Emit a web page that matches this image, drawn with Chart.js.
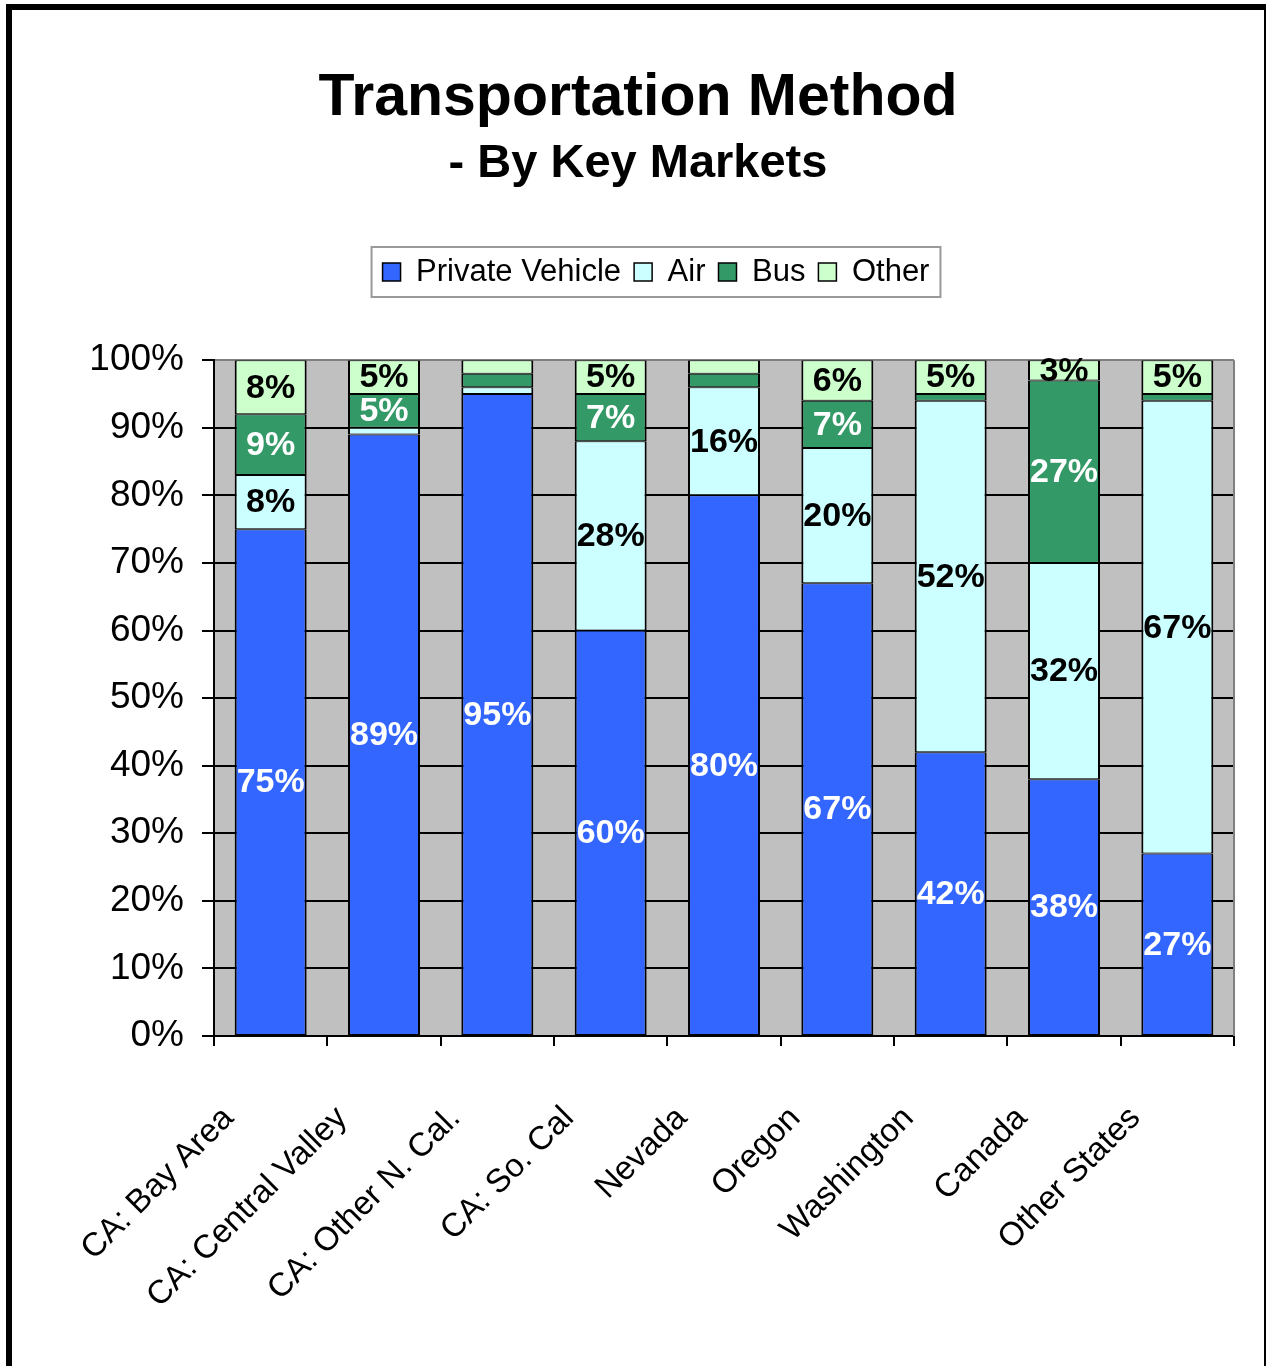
<!DOCTYPE html>
<html>
<head>
<meta charset="utf-8">
<script src="https://cdn.jsdelivr.net/npm/chart.js@4.4.1/dist/chart.umd.min.js"></script>
<style>
html,body{margin:0;padding:0;background:#fff;overflow:hidden;}
#wrap{position:relative;width:1267px;height:1366px;}
#frame{position:absolute;left:6px;top:4px;width:1252px;height:1400px;border-left:6px solid #000;border-top:6px solid #000;border-right:2px solid #000;pointer-events:none;}
canvas{position:absolute;left:0;top:0;}
</style>
</head>
<body>
<div id="wrap"><canvas id="c" width="1267" height="1366"></canvas><div id="frame"></div></div>
<script>
// ---- data ----
const categories = ['CA: Bay Area', 'CA: Central Valley', 'CA: Other N. Cal.', 'CA: So. Cal', 'Nevada', 'Oregon', 'Washington', 'Canada', 'Other States'];
const seriesNames = ['Private Vehicle', 'Air', 'Bus', 'Other'];
const privateVehicle = [75, 89, 95, 60, 80, 67, 42, 38, 27];
const air = [8, 1, 1, 28, 16, 20, 52, 32, 67];
const bus = [9, 5, 2, 7, 2, 7, 1, 27, 1];
const other = [8, 5, 2, 5, 2, 6, 5, 3, 5];
const yTickLabels = ['0%', '10%', '20%', '30%', '40%', '50%', '60%', '70%', '80%', '90%', '100%'];
const titleText = 'Transportation Method';
const subtitleText = '- By Key Markets';

// ---- styles ----
const FONT = "'Liberation Sans', Arial, Helvetica, sans-serif";
const fills = ['#3366FF', '#CCFFFF', '#339966', '#CCFFCC'];
const labelColors = ['#FFFFFF', '#000000', '#FFFFFF', '#000000'];
const seriesValues = [privateVehicle, air, bus, other];

const LAYOUT = { padLeft: 9, plotLeft: 214, plotRight: 1234, plotBottom: 1036, legendCx: 656, legendCy: 272 };

const plotFrame = {
  id: 'plotFrame',
  beforeDraw(chart) {
    const { ctx, chartArea: a } = chart;
    ctx.save();
    ctx.fillStyle = '#C0C0C0';
    ctx.fillRect(a.left, a.top, a.right - a.left, a.bottom - a.top);
    ctx.restore();
  },
  afterDraw(chart) {
    const { ctx, chartArea: a } = chart;
    ctx.save();
    ctx.strokeStyle = '#808080';
    ctx.lineWidth = 2;
    ctx.beginPath();
    ctx.moveTo(a.right, a.top);
    ctx.lineTo(a.right, a.bottom);
    ctx.stroke();
    ctx.restore();
  }
};

const legendFrame = {
  id: 'legendFrame',
  afterLayout(chart) {
    const lg = chart.legend;
    const pad = lg.options.labels.padding;
    const itemH = Math.max(lg.options.labels.font.size, lg.options.labels.boxHeight);
    const dx = LAYOUT.legendCx - (lg.left + lg.right) / 2;
    const dy = LAYOUT.legendCy - (lg.top + pad + itemH / 2);
    lg.left += dx; lg.right += dx; lg.top += dy; lg.bottom += dy;
  },
  afterDraw(chart) {
    const hb = chart.legend.legendHitBoxes;
    if (!hb || !hb.length) return;
    let l = Infinity, r = -Infinity, cy = 0;
    hb.forEach(h => { l = Math.min(l, h.left); r = Math.max(r, h.left + h.width); cy += h.top + h.height / 2; });
    cy /= hb.length;
    const ctx = chart.ctx;
    ctx.save();
    ctx.strokeStyle = '#999999';
    ctx.lineWidth = 2;
    ctx.strokeRect(l - 11, cy - 25, (r - l) + 22, 50);
    ctx.restore();
  }
};

const valueLabels = {
  id: 'valueLabels',
  afterDatasetsDraw(chart) {
    const ctx = chart.ctx;
    ctx.save();
    ctx.font = 'bold 34px ' + FONT;
    ctx.textAlign = 'center';
    ctx.textBaseline = 'middle';
    chart.data.datasets.forEach((ds, i) => {
      const meta = chart.getDatasetMeta(i);
      meta.data.forEach((el, j) => {
        const v = ds.data[j];
        if (v < 3) return;
        const p = el.getProps(['x', 'y', 'base'], true);
        ctx.fillStyle = labelColors[i];
        ctx.fillText(v + '%', p.x, (p.y + p.base) / 2 + 1);
      });
    });
    ctx.restore();
  }
};

new Chart(document.getElementById('c'), {
  type: 'bar',
  data: {
    labels: categories,
    datasets: seriesNames.map((name, i) => ({
      label: name,
      data: seriesValues[i],
      backgroundColor: fills[i],
      borderColor: '#000000',
      borderWidth: { top: 1, bottom: 1, left: 2, right: 2 },
      borderSkipped: false,
      barPercentage: 0.635,
      categoryPercentage: 1.0
    }))
  },
  options: {
    responsive: false,
    maintainAspectRatio: false,
    animation: false,
    events: [],
    layout: { padding: { top: 20, left: LAYOUT.padLeft, right: 0, bottom: 0 } },
    plugins: {
      title: {
        display: true,
        text: titleText,
        color: '#000',
        font: { family: FONT, size: 59, weight: 'bold', lineHeight: 1.2 },
        padding: { top: 43, bottom: 0 }
      },
      subtitle: {
        display: true,
        text: subtitleText,
        color: '#000',
        font: { family: FONT, size: 47, weight: 'bold', lineHeight: 1.2 },
        padding: { top: 2, bottom: 114 }
      },
      legend: {
        display: true,
        position: 'top',
        labels: {
          color: '#000',
          font: { family: FONT, size: 31 },
          boxWidth: 18,
          boxHeight: 18,
          padding: 13
        }
      },
      tooltip: { enabled: false }
    },
    scales: {
      x: {
        stacked: true,
        border: { display: true, color: '#000', width: 2 },
        grid: { drawOnChartArea: false, drawTicks: true, tickLength: 10, color: '#000', lineWidth: 2, offset: true },
        ticks: {
          autoSkip: false, maxRotation: 45, minRotation: 45,
          padding: 53, labelOffset: -42,
          color: '#000', font: { family: FONT, size: 33 }
        },
        afterFit(s) { s.height = 1366 - LAYOUT.plotBottom; s.paddingRight = 1267 - LAYOUT.plotRight; }
      },
      y: {
        stacked: true,
        min: 0, max: 100,
        border: { display: true, color: '#000', width: 2 },
        grid: {
          drawOnChartArea: true, drawTicks: true, tickLength: 12, lineWidth: 2,
          color: c => (c.tick && c.tick.value === 100 ? '#808080' : '#000000'),
          tickColor: '#000000'
        },
        ticks: {
          stepSize: 10, padding: 18, color: '#000',
          font: { family: FONT, size: 37 },
          callback: (v, i) => yTickLabels[i]
        },
        afterFit(s) { s.width = LAYOUT.plotLeft - LAYOUT.padLeft; }
      }
    }
  },
  plugins: [plotFrame, legendFrame, valueLabels]
});
</script>
</body>
</html>
